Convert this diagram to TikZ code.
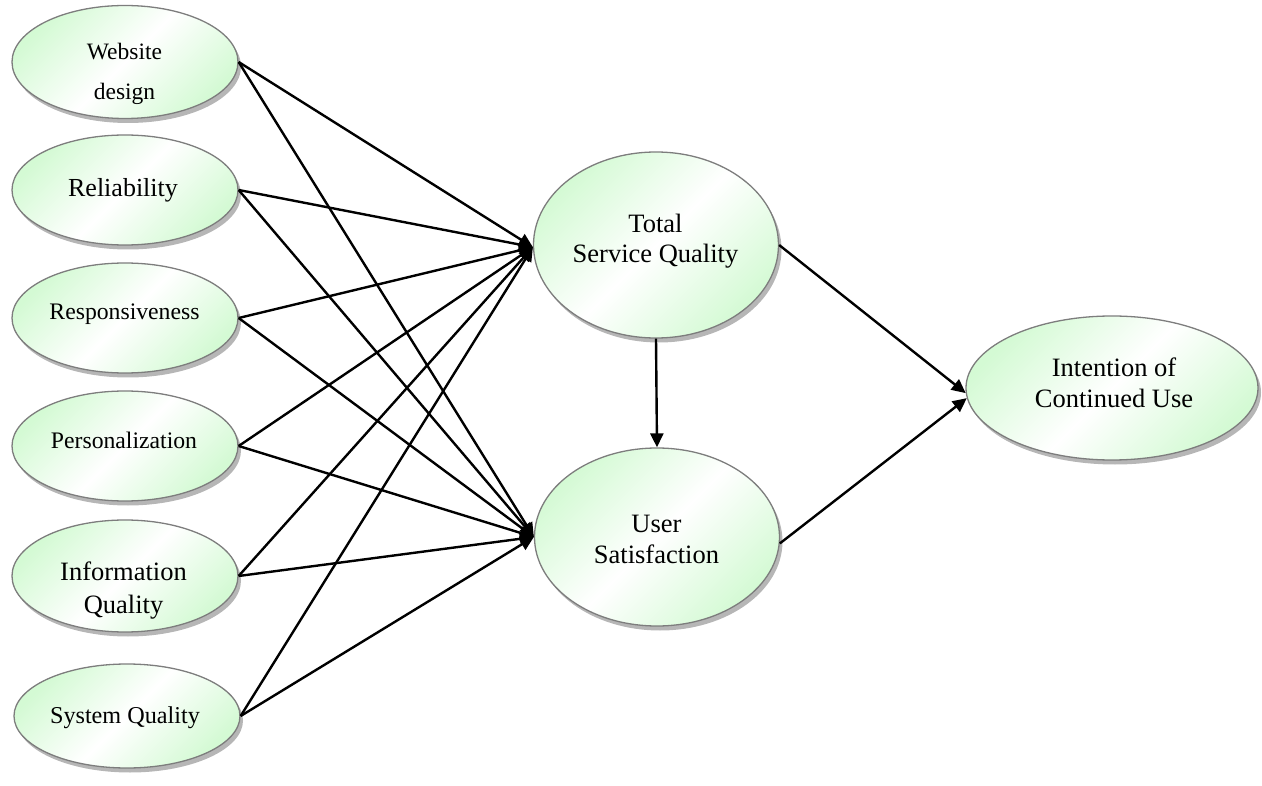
\documentclass[tikz,border=0pt]{standalone}
\usepackage{fontspec}
\setmainfont{Liberation Serif}
\usetikzlibrary{shapes.geometric,shadows,arrows.meta}

\definecolor{paleGreen}{RGB}{212,250,212}
\definecolor{rimGray}{RGB}{125,125,125}
\definecolor{shadowGray}{RGB}{182,182,182}

% centred stack of lines whose baseline is the first line
\newcommand{\linestack}[1]{\begin{tabular}[t]{@{}c@{}}#1\end{tabular}}

\begin{document}
\begin{tikzpicture}[x=1pt,y=-1pt,
  construct/.style={ellipse, draw=rimGray, line width=1.3pt, inner sep=0pt,
    top color=paleGreen, bottom color=paleGreen, middle color=white,
    shading angle=45,
    drop shadow={shadow xshift=3pt, shadow yshift=-4.5pt, fill=shadowGray, opacity=1}},
  small/.style={construct, minimum width=226pt, minimum height=#1},
  big/.style={construct, minimum width=245pt, minimum height=#1},
  caption/.style={anchor=base, inner sep=0pt, font=\fontsize{#1}{31}\selectfont},
  path/.style={line width=2.4pt, -{Triangle[length=14pt,width=13pt]}}
]
\useasboundingbox (0,0) rectangle (1262,786);

% antecedents
\node[small=113pt] (web)  at (125,62)  {};
\node[small=110pt] (rel)  at (125,190) {};
\node[small=110pt] (resp) at (125,318) {};
\node[small=110pt] (pers) at (125,446) {};
\node[small=112pt] (info) at (125,576) {};
\node[small=104pt] (sys)  at (127,716) {};

% mediators and outcome
\node[big=186pt] (tsq) at (656,245) {};
\node[big=178pt] (us)  at (657,537) {};
\node[construct, minimum width=292pt, minimum height=144pt] (icu) at (1112,388) {};

% labels
\node[caption=23.5, font=\fontsize{23.5}{40}\selectfont] (web-t) at (124.5,60) {\linestack{Website\\design}};
\node[caption=26] (rel-t)  at (123,197) {Reliability};
\node[caption=23.7] (resp-t) at (124.5,320) {Responsiveness};
\node[caption=23.7] (pers-t) at (124,448) {Personalization};
\node[caption=26.5, font=\fontsize{26.5}{33}\selectfont] (info-t) at (123.5,580) {\linestack{Information\\Quality}};
\node[caption=24.2] (sys-t)  at (125,723) {System Quality};
\node[caption=26.5, font=\fontsize{26.5}{30}\selectfont] (tsq-t) at (655.5,233) {\linestack{Total\\Service Quality}};
\node[caption=26.5] (us-t)  at (656.5,532) {\linestack{User\\Satisfaction}};
\node[caption=26.5] (icu-t) at (1114,377) {\linestack{Intention of\\Continued Use}};

% paths into total service quality
\foreach \src in {web,rel,resp,pers,info,sys}
  \draw[path] (\src.east) -- (tsq.181);
% paths into user satisfaction
\foreach \src in {web,rel,resp,pers,info,sys}
  \draw[path] (\src.east) -- (us.west);

\draw[path] (tsq.south) -- (us.north);
\draw[path] (tsq.east) -- (icu.182);
\draw[path] (us.-3) -- (icu.184.5);
\end{tikzpicture}
\end{document}
